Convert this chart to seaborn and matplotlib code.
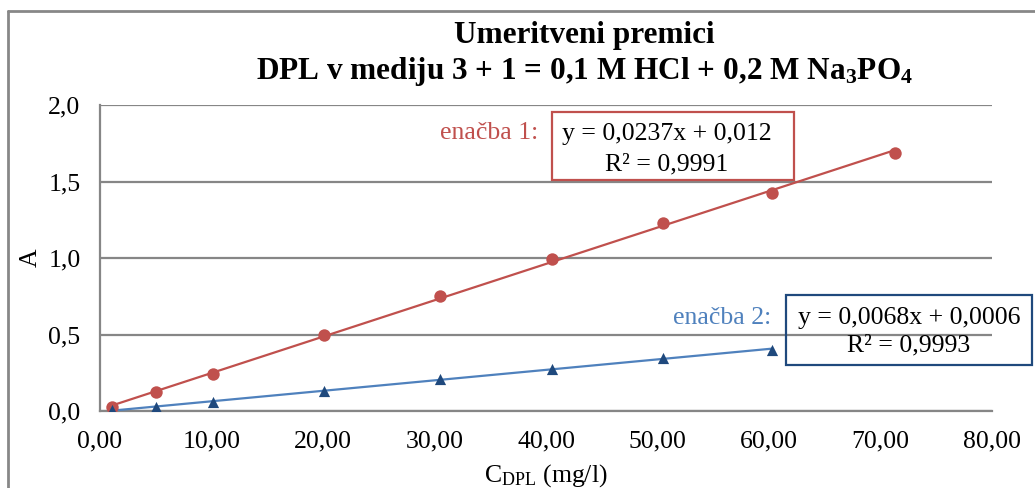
import matplotlib
matplotlib.use("Agg")
import matplotlib.pyplot as plt
import seaborn as sns
import pandas as pd
from matplotlib.lines import Line2D
from matplotlib.patches import Rectangle

# ---- data ----
conc_1 = [1.05, 5.05, 10.1, 20.1, 30.5, 40.5, 50.5, 60.3, 71.3]
absorb_1 = [0.024, 0.122, 0.240, 0.500, 0.749, 0.995, 1.230, 1.426, 1.688]
conc_2 = [1.05, 5.05, 10.1, 20.1, 30.5, 40.5, 50.5, 60.3]
absorb_2 = [0.005, 0.024, 0.061, 0.133, 0.210, 0.275, 0.345, 0.400]

x_ticks = [0, 10, 20, 30, 40, 50, 60, 70, 80]
x_tick_labels = ["0,00", "10,00", "20,00", "30,00", "40,00", "50,00", "60,00", "70,00", "80,00"]
y_ticks = [0.0, 0.5, 1.0, 1.5, 2.0]
y_tick_labels = ["0,0", "0,5", "1,0", "1,5", "2,0"]

eq1_label = "enačba 1:"
eq1_lines = ["y = 0,0237x + 0,012", "R² = 0,9991"]
eq2_label = "enačba 2:"
eq2_lines = ["y = 0,0068x + 0,0006", "R² = 0,9993"]
title_1 = "Umeritveni premici"
title_2 = r"DPL v mediju 3 + 1 = 0,1 M HCl + 0,2 M Na$_\mathbf{3}$PO$_\mathbf{4}$"

df1 = pd.DataFrame({"c": conc_1, "A": absorb_1})
df2 = pd.DataFrame({"c": conc_2, "A": absorb_2})

RED = "#C0504D"
BLUE = "#4F81BD"
DARKBLUE = "#1F497D"
GRID = "#868686"

sns.set_style("white")
plt.rcParams["font.family"] = ["Liberation Serif", "DejaVu Serif"]
plt.rcParams["mathtext.fontset"] = "custom"
plt.rcParams["mathtext.rm"] = "Liberation Serif"
plt.rcParams["mathtext.bf"] = "Liberation Serif:bold"
plt.rcParams["mathtext.it"] = "Liberation Serif:italic"
plt.rcParams["text.color"] = "black"
plt.rcParams["axes.labelcolor"] = "black"

fig = plt.figure(figsize=(10.35, 4.88), dpi=100)
ax = fig.add_axes([100 / 1035, 1 - 411 / 488, 892 / 1035, 306 / 488])

# trend lines
sns.regplot(data=df1, x="c", y="A", ax=ax, scatter=False, ci=None, truncate=True,
            line_kws=dict(color=RED, lw=1.6, zorder=3))
sns.regplot(data=df2, x="c", y="A", ax=ax, scatter=False, ci=None, truncate=True,
            line_kws=dict(color=BLUE, lw=1.6, zorder=3))
# markers
sns.scatterplot(data=df1, x="c", y="A", ax=ax, marker="o", s=80, color=RED,
                edgecolor=RED, linewidth=0, zorder=4, legend=False)
sns.scatterplot(data=df2, x="c", y="A", ax=ax, marker="^", s=65, color=DARKBLUE,
                edgecolor=DARKBLUE, linewidth=0, zorder=4, legend=False)

ax.set_xlim(0, 80)
ax.set_ylim(0, 2.0)
ax.set_xticks(x_ticks)
ax.set_xticklabels(x_tick_labels)
ax.set_yticks(y_ticks)
ax.set_yticklabels(y_tick_labels)
ax.tick_params(axis="both", length=0, labelsize=18.5, pad=14, colors="black")
ax.grid(axis="y", color=GRID, lw=1.6)
ax.grid(axis="x", visible=False)
ax.set_axisbelow(True)
for s in ["top", "right"]:
    ax.spines[s].set_visible(False)
for s in ["left", "bottom"]:
    ax.spines[s].set_color(GRID)
    ax.spines[s].set_linewidth(1.6)

ax.set_xlabel(r"C$_{\mathrm{DPL}}$ (mg/l)", fontsize=18.5, labelpad=7)
ax.set_ylabel("A", fontsize=18.5, labelpad=5)

# equation annotations (boxes in axes fraction)
ax.add_patch(Rectangle((0.5067, 0.755), 0.2713, 0.222, transform=ax.transAxes,
                       fc="white", ec=RED, lw=1.6, zorder=5, clip_on=False))
ax.add_patch(Rectangle((0.769, 0.150), 0.276, 0.229, transform=ax.transAxes,
                       fc="none", ec=DARKBLUE, lw=1.6, zorder=5, clip_on=False))

ax.text(0.491, 0.908, eq1_label, transform=ax.transAxes, ha="right", va="center",
        fontsize=18.5, color=RED, zorder=6)
for line, yy in zip(eq1_lines, [0.906, 0.806]):
    ax.text(0.635, yy, line, transform=ax.transAxes, ha="center", va="center",
            fontsize=18.5, color="black", zorder=6)
ax.text(0.753, 0.305, eq2_label, transform=ax.transAxes, ha="right", va="center",
        fontsize=18.5, color=BLUE, zorder=6)
for line, yy in zip(eq2_lines, [0.305, 0.213]):
    ax.text(0.907, yy, line, transform=ax.transAxes, ha="center", va="center",
            fontsize=18.5, color="black", zorder=6, clip_on=False)

# titles
fig.text(0.565, 1 - 35 / 488, title_1, ha="center", va="center", fontsize=22.5,
         fontweight="bold", color="black")
fig.text(0.565, 1 - 72 / 488, title_2, ha="center", va="center", fontsize=22.5,
         fontweight="bold", color="black")

# outer chart frame
fx = 8 / 1035
fy = 1 - 11 / 488
fig.add_artist(Line2D([fx, fx], [0, fy], transform=fig.transFigure, color="#878787", lw=2))
fig.add_artist(Line2D([fx, 1], [fy, fy], transform=fig.transFigure, color="#878787", lw=2))

fig.savefig("out.png", dpi=100)
